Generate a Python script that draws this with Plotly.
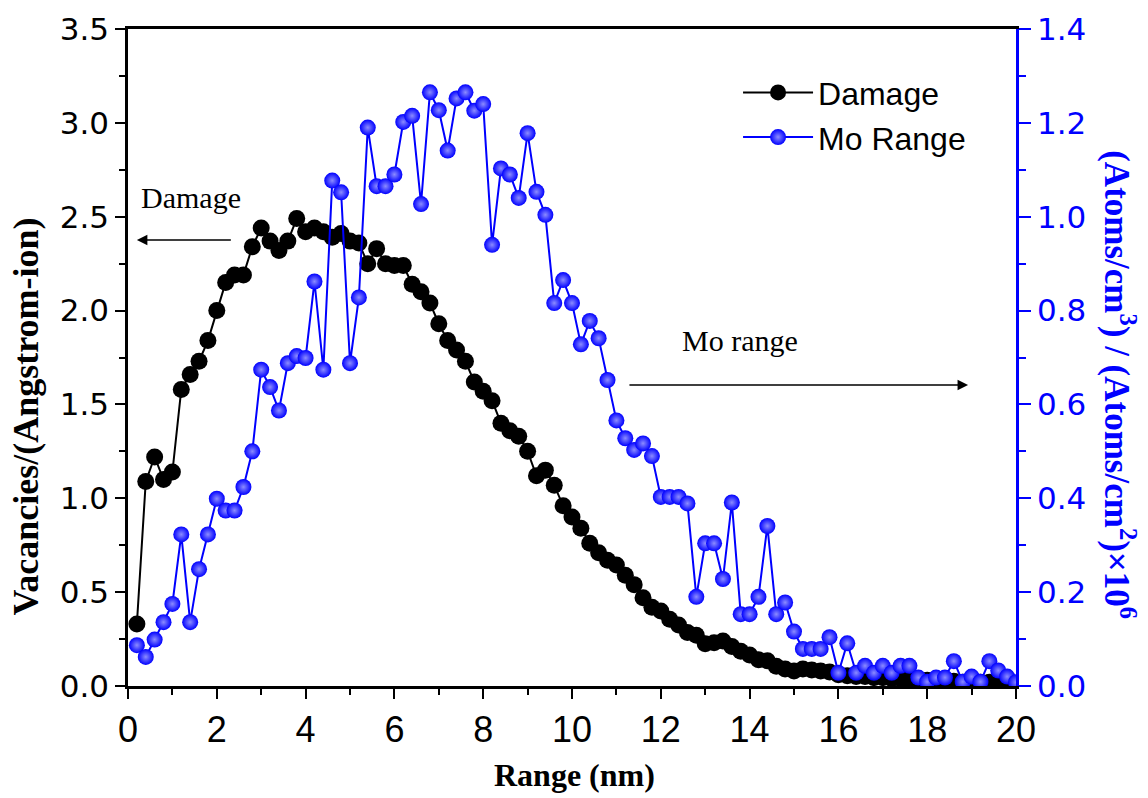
import plotly.graph_objects as go

range_nm = [round(0.2 * i, 1) for i in range(1, 101)]

damage = [0.33, 1.09, 1.22, 1.10, 1.14, 1.58, 1.66, 1.73, 1.84, 2.00,
          2.15, 2.19, 2.19, 2.34, 2.44, 2.37, 2.32, 2.37, 2.49, 2.42,
          2.44, 2.42, 2.39, 2.41, 2.37, 2.36, 2.25, 2.33, 2.25, 2.24,
          2.24, 2.14, 2.10, 2.04, 1.93, 1.84, 1.79, 1.73, 1.62, 1.57,
          1.52, 1.40, 1.36, 1.33, 1.25, 1.12, 1.15, 1.07, 0.96, 0.90,
          0.84, 0.76, 0.71, 0.67, 0.645, 0.59, 0.54, 0.47, 0.42, 0.40,
          0.355, 0.325, 0.285, 0.27, 0.225, 0.23, 0.24, 0.21, 0.185, 0.165,
          0.14, 0.135, 0.105, 0.09, 0.08, 0.09, 0.085, 0.08, 0.075, 0.06,
          0.055, 0.05, 0.05, 0.045, 0.045, 0.04, 0.04, 0.035, 0.03, 0.03,
          0.03, 0.025, 0.025, 0.02, 0.02, 0.02, 0.02, 0.015, 0.015, 0.01]

mo_range = [0.087, 0.062, 0.099, 0.136, 0.175, 0.323, 0.136, 0.249, 0.323, 0.399,
            0.374, 0.374, 0.424, 0.500, 0.674, 0.637, 0.587, 0.688, 0.703, 0.699,
            0.862, 0.674, 1.077, 1.052, 0.688, 0.828, 1.190, 1.065, 1.065, 1.090,
            1.202, 1.215, 1.027, 1.265, 1.227, 1.141, 1.252, 1.265, 1.226, 1.240,
            0.940, 1.103, 1.090, 1.040, 1.178, 1.053, 1.004, 0.816, 0.865, 0.816,
            0.728, 0.778, 0.741, 0.652, 0.566, 0.528, 0.503, 0.517, 0.490, 0.403,
            0.403, 0.403, 0.389, 0.190, 0.304, 0.304, 0.228, 0.391, 0.153, 0.153,
            0.190, 0.341, 0.153, 0.178, 0.116, 0.079, 0.079, 0.079, 0.104, 0.028,
            0.091, 0.028, 0.043, 0.028, 0.043, 0.028, 0.043, 0.043, 0.018, 0.009,
            0.018, 0.018, 0.053, 0.009, 0.020, 0.009, 0.053, 0.033, 0.020, 0.008]

BLUE = "#0000ff"
SERIF = "Liberation Serif, Times New Roman, serif"
SANS = "Liberation Sans, Arial, sans-serif"
TICKFONT = "DejaVu Sans, Liberation Sans, sans-serif"
NARROW = "Liberation Sans Narrow, Arial Narrow, Liberation Sans, sans-serif"

fig = go.Figure()
fig.add_trace(go.Scatter(
    x=range_nm, y=damage, name="Damage", mode="lines+markers",
    line=dict(color="black", width=2),
    marker=dict(color="black", size=17, line=dict(width=0)),
    yaxis="y"))
fig.add_trace(go.Scatter(
    x=range_nm, y=mo_range, name="Mo Range", mode="lines+markers",
    line=dict(color=BLUE, width=2),
    marker=dict(color=BLUE, size=16, line=dict(width=0),
                gradient=dict(type="radial", color="#8c8cff")),
    yaxis="y2"))

fig.update_layout(
    width=1148, height=798,
    margin=dict(l=128, r=132, t=29, b=112, autoexpand=False),
    plot_bgcolor="white", paper_bgcolor="white",
    showlegend=True,
    legend=dict(x=0.687, y=0.945, xanchor="left", yanchor="top",
                bgcolor="rgba(0,0,0,0)", font=dict(family=SANS, size=32, color="black"),
                itemwidth=70, tracegroupgap=0),
    xaxis=dict(range=[0, 20], dtick=2, tick0=0, showgrid=False, zeroline=False,
               showline=True, linecolor="black", linewidth=2.5, mirror=True,
               ticks="outside", ticklen=10, tickwidth=2, tickcolor="black",
               minor=dict(dtick=1, ticks="outside", ticklen=6, tickwidth=2, tickcolor="black"),
               tickfont=dict(family=NARROW, size=36, color="black")),
    yaxis=dict(range=[0, 3.5], dtick=0.5, tick0=0, tickformat=".1f", showgrid=False,
               zeroline=False, showline=True, linecolor="black", linewidth=2.5,
               ticks="outside", ticklen=10, tickwidth=2, tickcolor="black",
               minor=dict(dtick=0.25, ticks="outside", ticklen=6, tickwidth=2, tickcolor="black"),
               tickfont=dict(family=TICKFONT, size=31, color="black")),
    yaxis2=dict(range=[0, 1.4], dtick=0.2, tick0=0, tickformat=".1f", overlaying="y",
                side="right", showgrid=False, zeroline=False, showline=True,
                linecolor=BLUE, linewidth=2.5,
                ticks="outside", ticklen=12, tickwidth=2, tickcolor=BLUE,
                minor=dict(dtick=0.1, ticks="outside", ticklen=7, tickwidth=2, tickcolor=BLUE),
                tickfont=dict(family=TICKFONT, size=31, color=BLUE)),
)

annotations = [
    dict(text="<b>Range (nm)</b>", xref="paper", yref="paper", x=0.503, y=-0.135,
         showarrow=False, xanchor="center", yanchor="middle",
         font=dict(family=SERIF, size=32, color="black")),
    dict(text="<b>Vacancies/(Angstrom-ion)</b>", xref="paper", yref="paper", x=-0.115, y=0.41,
         showarrow=False, textangle=-90, xanchor="center", yanchor="middle",
         font=dict(family=SERIF, size=36, color="black")),
    dict(text="<b>(Atoms/cm<sup>3</sup>) / (Atoms/cm<sup>2</sup>)×10<sup>6</sup></b>",
         xref="paper", yref="paper", x=1.117, y=0.458,
         showarrow=False, textangle=90, xanchor="center", yanchor="middle",
         font=dict(family=SERIF, size=35, color=BLUE)),
    dict(text="Damage", xref="x", yref="y", x=1.42, y=2.60, showarrow=False,
         xanchor="center", yanchor="middle", font=dict(family=SERIF, size=30, color="black")),
    dict(text="", xref="x", yref="y", x=0.2, y=2.376, ax=2.35, ay=2.376,
         axref="x", ayref="y", showarrow=True, arrowhead=2, arrowsize=1.4,
         arrowwidth=1.5, arrowcolor="black"),
    dict(text="Mo range", xref="x", yref="y", x=13.78, y=1.843, showarrow=False,
         xanchor="center", yanchor="middle", font=dict(family=SERIF, size=30, color="black")),
    dict(text="", xref="x", yref="y", x=18.92, y=1.604, ax=11.26, ay=1.604,
         axref="x", ayref="y", showarrow=True, arrowhead=2, arrowsize=1.4,
         arrowwidth=1.5, arrowcolor="black"),
]
fig.update_layout(annotations=annotations)

fig.write_html("out.html")
